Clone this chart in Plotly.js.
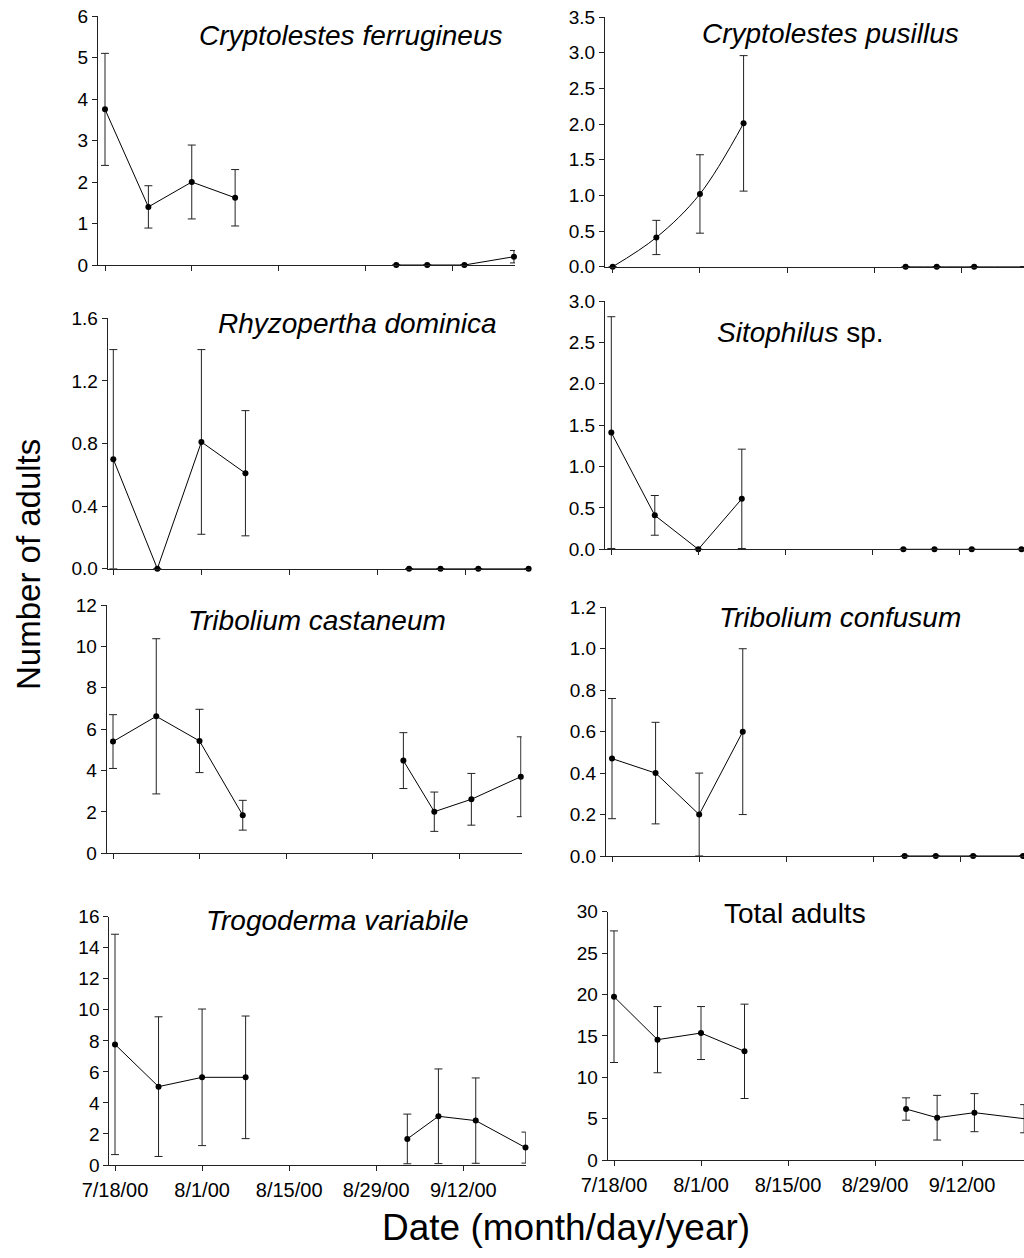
<!DOCTYPE html>
<html>
<head>
<meta charset="utf-8">
<script src="https://cdn.plot.ly/plotly-3.0.1.min.js"></script>
<style>html,body{margin:0;padding:0;background:#fff;}#chart{width:1024px;height:1258px;}</style>
</head>
<body>
<div id="chart"></div>
<script>
// ---- DATA ----
const dates = ['2000-07-18','2000-07-25','2000-08-01','2000-08-08','2000-09-03','2000-09-08','2000-09-14','2000-09-22'];
const tickDates = ['2000-07-18','2000-08-01','2000-08-15','2000-08-29','2000-09-12'];
const tickLabels = ['7/18/00','8/1/00','8/15/00','8/29/00','9/12/00'];

const panelTitles = ['<i>Cryptolestes ferrugineus</i>','<i>Cryptolestes pusillus</i>','<i>Rhyzopertha dominica</i>','<i>Sitophilus</i> sp.','<i>Tribolium castaneum</i>','<i>Tribolium confusum</i>','<i>Trogoderma variabile</i>','Total adults'];

const cferMean = [3.75, 1.40, 2.00, 1.62, 0, 0, 0, 0.20];
const cferErr  = [1.35, 0.51, 0.89, 0.68, null, null, null, 0.15];
const cpusMean = [0, 0.41, 1.02, 2.01, 0, 0, 0, 0];
const cpusErr  = [null, 0.24, 0.55, 0.95, null, null, null, null];
const rdomMean = [0.70, 0, 0.81, 0.61, 0, 0, 0, 0];
const rdomErr  = [0.70, null, 0.59, 0.40, null, null, null, null];
const sitoMean = [1.41, 0.41, 0, 0.61, 0, 0, 0, 0];
const sitoErr  = [1.40, 0.24, null, 0.60, null, null, null, null];
const tcasMean = [5.40, 6.62, 5.43, 1.84, 4.48, 2.01, 2.61, 3.70];
const tcasErr  = [1.30, 3.75, 1.53, 0.72, 1.35, 0.95, 1.25, 1.93];
const tconMean = [0.47, 0.40, 0.20, 0.60, 0, 0, 0, 0];
const tconErr  = [0.29, 0.245, 0.20, 0.40, null, null, null, null];
const tvarMean = [7.77, 5.05, 5.65, 5.65, 1.68, 3.14, 2.86, 1.12];
const tvarErr  = [7.10, 4.50, 4.40, 3.95, 1.60, 3.05, 2.75, 1.00];
const totMean  = [19.73, 14.54, 15.34, 13.13, 6.16, 5.11, 5.72, 4.99];
const totErr   = [7.95, 4.00, 3.20, 5.70, 1.35, 2.70, 2.30, 1.70];

const seriesMeans = [cferMean, cpusMean, rdomMean, sitoMean, tcasMean, tconMean, tvarMean, totMean];
const seriesErrs  = [cferErr, cpusErr, rdomErr, sitoErr, tcasErr, tconErr, tvarErr, totErr];
const yMax  = [6, 3.5, 1.6, 3, 12, 1.2, 16, 30];
const yStep = [1, 0.5, 0.4, 0.5, 2, 0.2, 2, 5];
const yFmt  = ['', '.1f', '.1f', '.1f', '', '.1f', '', ''];

// ---- LAYOUT GEOMETRY (pixels) ----
const W = 1024, H = 1258;
const geo = [
  {ax: 98,    end: 515,  t0: 105,   t1: 452,   y0: 265,   yTop: 16,    tx: 350, ty: 35},
  {ax: 605,   end: 1024, t0: 612.7, t1: 961.7, y0: 266.7, yTop: 17.1,  tx: 830, ty: 33},
  {ax: 107.7, end: 530,  t0: 113.3, t1: 465.7, y0: 568.7, yTop: 318.3, tx: 357, ty: 323},
  {ax: 605,   end: 1024, t0: 611.3, t1: 959.3, y0: 549.3, yTop: 301,   tx: 800, ty: 332},
  {ax: 106.7, end: 521.7,t0: 113,   t1: 459,   y0: 853.3, yTop: 605,   tx: 317, ty: 620},
  {ax: 606,   end: 1024, t0: 612,   t1: 960.7, y0: 856,   yTop: 607.3, tx: 840, ty: 617},
  {ax: 109.3, end: 525.7,t0: 115,   t1: 463.3, y0: 1165,  yTop: 916.7, tx: 337, ty: 920},
  {ax: 607.7, end: 1024, t0: 614,   t1: 962,   y0: 1160,  yTop: 911.7, tx: 795, ty: 913}
];
const DAY = 86400000;
const base = Date.UTC(2000, 6, 18);
function pxToDate(g, px) {
  const d = (px - g.t0) / (g.t1 - g.t0) * 56;
  return new Date(base + d * DAY).toISOString().slice(0, 19).replace('T', ' ');
}

const font = 'Liberation Sans, Arial, sans-serif';
const traces = [];
const layout = {
  width: W, height: H,
  margin: {l: 0, r: 0, t: 0, b: 0},
  paper_bgcolor: '#fff', plot_bgcolor: '#fff',
  showlegend: false,
  font: {family: font, color: '#000'},
  annotations: []
};

for (let i = 0; i < 8; i++) {
  const g = geo[i];
  const n = i + 1;
  const xa = 'xaxis' + (n === 1 ? '' : n), ya = 'yaxis' + (n === 1 ? '' : n);
  const xr = 'x' + (n === 1 ? '' : n), yr = 'y' + (n === 1 ? '' : n);
  const bottom = (i >= 6);
  layout[xa] = {
    domain: [g.ax / W, Math.min(1, g.end / W)],
    range: [pxToDate(g, g.ax), pxToDate(g, g.end)],
    type: 'date', anchor: yr,
    showgrid: false, zeroline: false,
    showline: true, linecolor: '#222', linewidth: 1,
    ticks: 'outside', ticklen: 5, tickcolor: '#222', tickwidth: 1,
    tickmode: 'array', tickvals: tickDates,
    ticktext: bottom ? tickLabels : tickLabels.map(() => ''),
    showticklabels: bottom,
    tickfont: {family: font, size: 20, color: '#000'},
    ticklabelstandoff: 2
  };
  layout[ya] = {
    domain: [(H - g.y0) / H, (H - g.yTop) / H],
    range: [0, yMax[i]], anchor: xr,
    showgrid: false, zeroline: false,
    showline: true, linecolor: '#222', linewidth: 1,
    ticks: 'outside', ticklen: 5, tickcolor: '#222', tickwidth: 1,
    tick0: 0, dtick: yStep[i], tickformat: yFmt[i],
    tickfont: {family: font, size: 19, color: '#000'}
  };
  const segs = [[0, 4], [4, 8]];
  segs.forEach(([a, b]) => {
    traces.push({
      type: 'scatter', mode: 'lines+markers',
      x: dates.slice(a, b), y: seriesMeans[i].slice(a, b),
      xaxis: xr, yaxis: yr,
      line: {color: '#000', width: 1, shape: i === 1 ? 'spline' : 'linear'},
      marker: {color: '#000', size: 6},
      cliponaxis: false,
      error_y: {type: 'data', array: seriesErrs[i].slice(a, b), visible: true,
                color: '#222', thickness: 1, width: 4}
    });
  });
  layout.annotations.push({
    xref: 'paper', yref: 'paper', x: g.tx / W, y: (H - g.ty) / H,
    xanchor: 'center', yanchor: 'middle', showarrow: false,
    text: panelTitles[i], font: {family: font, size: 28, color: '#000'}
  });
}

layout.annotations.push({
  xref: 'paper', yref: 'paper', x: 28 / W, y: (H - 565) / H,
  xanchor: 'center', yanchor: 'middle', showarrow: false, textangle: -90,
  text: 'Number of adults', font: {family: font, size: 33, color: '#000'}
});
layout.annotations.push({
  xref: 'paper', yref: 'paper', x: 566 / W, y: (H - 1227) / H,
  xanchor: 'center', yanchor: 'middle', showarrow: false,
  text: 'Date (month/day/year)', font: {family: font, size: 37, color: '#000'}
});

Plotly.newPlot('chart', traces, layout, {staticPlot: true, displayModeBar: false});
</script>
</body>
</html>
